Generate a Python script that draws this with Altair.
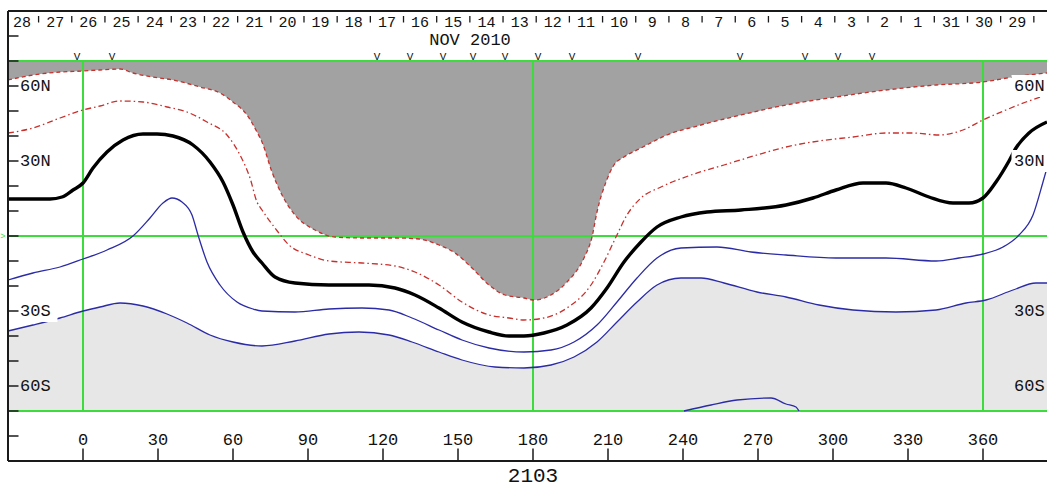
import altair as alt
import pandas as pd

# ---- curves: Carrington longitude (deg) and latitude (deg) ----
neutral_lon = [-30, -13.2, -8.4, -4, 0, 4, 9.6, 16, 24, 29.6, 36, 44, 50.8, 56, 60, 64, 68, 71.6,
               76.8, 84.8, 98.4, 114.4, 124.8, 132.8, 142.4, 151.6, 162.4, 170.4, 176.4, 184.4,
               193.6, 203.2, 209.6, 216.4, 223.2, 229.6, 239.2, 249.6, 263.2, 281.2, 292, 301.2,
               312, 321.2, 329.2, 338.4, 348, 354.4, 360, 365.2, 370.4, 373.2, 378.4, 385.6]
neutral_lat = [14.8, 14.8, 15.6, 18.4, 21.2, 27.2, 33.6, 38.4, 40.8, 40.8, 40, 36.4, 29.6, 21.6,
               12.4, 1.6, -6.4, -10.8, -16.4, -18.8, -19.6, -19.6, -20.8, -23.6, -28.8, -34.4,
               -38.4, -40, -40, -38.8, -35.6, -28.8, -20.8, -10.4, -2.4, 3.6, 7.6, 9.6, 10.4,
               12.4, 15.2, 18.4, 21.2, 21.2, 19.2, 15.6, 13.2, 13.2, 15.2, 21.6, 30, 35.2, 41.2,
               45.6]

red_outer_lon = [-30, -20, -9.2, 0, 6.8, 14.8, 20, 28, 36, 46.8, 54.8, 60, 65.6, 69.6, 71.6, 75.6,
                 79.6, 84.8, 92.8, 100.8, 111.6, 124.8, 134.4, 142.4, 148.8, 155.6, 162.4, 168.8,
                 176.4, 180.4, 187.2, 193.6, 200.4, 203.6, 205.6, 209.2, 212.4, 216.4, 223.2,
                 233.6, 247.2, 263.2, 281.2, 301.2, 321.2, 341.2, 360, 372, 385.6]
red_outer_lat = [62.4, 64.4, 65.6, 66, 66.4, 66.8, 65.2, 63.6, 62.4, 59.6, 57.2, 53.6, 48.4, 41.6,
                 37.6, 25.6, 16.4, 8.4, 2.4, -0.4, -0.8, -0.8, -1.2, -3.6, -6.8, -12.8, -19.6,
                 -23.6, -24.8, -25.6, -23.6, -18.4, -8.8, -0.4, 9.6, 21.6, 28.4, 31.6, 35.2, 40.4,
                 44.4, 48.4, 52.4, 55.6, 58.4, 60.4, 61.6, 63.6, 65.2]

red_inner_lon = [-30, -20, -9.2, 0, 6.8, 14.8, 24, 33.6, 41.6, 49.6, 57.6, 62.8, 66.8, 69.6, 71.6,
                 76.8, 82.4, 90.4, 98.4, 111.6, 124.8, 132.8, 142.4, 151.6, 162.4, 170.4, 176.4,
                 184.4, 193.6, 203.2, 208.4, 213.2, 217.6, 223.2, 231.2, 243.2, 256.4, 269.6,
                 281.2, 294.4, 308, 321.2, 332, 342.4, 352, 360, 369.2, 377.2, 385.6]
red_inner_lat = [41.2, 43.2, 47.2, 50.4, 52, 54, 53.6, 51.6, 49.6, 45.6, 40.4, 32.4, 23.2, 13.6,
                 10.4, 3.2, -3.6, -7.6, -10, -10.8, -12, -14.4, -19.6, -26.4, -31.6, -32.8, -33.6,
                 -32.8, -28.8, -19.6, -10.4, -0.4, 8.4, 15.2, 19.6, 24.4, 28.4, 32.4, 35.6, 38,
                 39.6, 41.2, 41.2, 40.4, 42.4, 46.4, 50.4, 53.6, 56.4]

blue_upper_lon = [-30, -20, -9.2, 0, 9.6, 20, 26.8, 32, 35.6, 39.6, 43.6, 46, 49.6, 54.8, 61.6, 68,
                  71.6, 84.8, 98.4, 111.6, 122.4, 131.6, 142.4, 151.6, 162.4, 176.4, 187.2, 196.4,
                  205.6, 213.6, 221.6, 229.6, 239.2, 253.6, 267.2, 281.2, 301.2, 321.2, 341.2,
                  350.4, 360, 368, 374.4, 380, 384, 385.6]
blue_upper_lat = [-17.6, -14.8, -12.4, -9.2, -5.6, 0, 7.2, 13.2, 15.2, 13.6, 8.4, 0.4, -10.4,
                  -19.6, -26.4, -29.2, -30, -30.4, -29.2, -28.8, -29.6, -32.8, -37.6, -41.6,
                  -44.8, -46.4, -45.6, -42.4, -35.6, -26.4, -16.8, -8.8, -4.8, -4.4, -6.4, -7.6,
                  -8.8, -8.8, -10, -8.8, -7.2, -4.4, 0.4, 8.4, 21.6, 27.2]

blue_lower_lon = [-30, -20, -9.2, 0, 6.8, 14.8, 24, 33.6, 41.6, 50.8, 60, 71.6, 84.8, 98.4, 110.4,
                  122.4, 131.6, 142.4, 151.6, 164.8, 176.4, 187.2, 196.4, 205.6, 213.6, 221.6,
                  229.6, 239.2, 247.2, 256.4, 269.6, 281.2, 294.4, 308, 325.2, 341.2, 353.2,
                  361.2, 372, 381.2, 385.6]
blue_lower_lat = [-38, -35.6, -32.8, -30, -28.4, -26.8, -28, -31.2, -34.8, -39.6, -42.4, -44, -42,
                  -39.2, -38.4, -39.6, -42.4, -46.4, -49.6, -52.4, -52.8, -51.6, -48.4, -42.4,
                  -34.4, -26.4, -19.6, -16.8, -16.8, -18.8, -22.4, -24.4, -27.6, -29.6, -30.4,
                  -29.6, -26.8, -25.6, -21.6, -18.8, -18.8]

blue_island_lon = [240.4, 251.2, 261.6, 275.2, 281.2, 285.2, 286.4]
blue_island_lat = [-70, -67.6, -65.6, -64.8, -67.2, -68.4, -70]

# ---- axis furniture ----
lat_ticks = [-80, -70, -60, -50, -40, -30, -20, -10, 0, 10, 20, 30, 40, 50, 60, 70, 80]
lon_ticks = [0, 30, 60, 90, 120, 150, 180, 210, 240, 270, 300, 330, 360]
day_labels = ["28", "27", "26", "25", "24", "23", "22", "21", "20", "19", "18", "17", "16", "15",
              "14", "13", "12", "11", "10", "9", "8", "7", "6", "5", "4", "3", "2", "1", "31",
              "30", "29"]
first_day_lon = -24.4
deg_per_day = 13.27
obs_marks_lon = [-2.4, 11.6, 117.6, 130.8, 144, 156, 168.8, 182, 195.6, 222, 262.8, 288.8, 302,
                 315.6]
lat_label_vals = [60, 30, -30, -60]
lat_label_text = ["60N", "30N", "30S", "60S"]
guide_lats = [70, 0, -70]
guide_lons = [0, 180, 360]

LON_MIN, LON_MAX = -30, 385.6
FONT = "Liberation Mono"
GREEN = "#3ddc3d"

xs = alt.Scale(domain=[LON_MIN, LON_MAX], nice=False, zero=False)
ys = alt.Scale(domain=[-90, 90], nice=False, zero=False)
X = alt.X("lon:Q", scale=xs, axis=None)
Y = alt.Y("lat:Q", scale=ys, axis=None)


def curve(lons, lats):
    return pd.DataFrame({"lon": lons, "lat": lats})


def rules(df, color, width):
    return alt.Chart(df).mark_rule(color=color, strokeWidth=width).encode(
        x=X, x2="lon2:Q", y=Y, y2="lat2:Q")


# shaded polarity regions
north_fill = alt.Chart(curve(red_outer_lon, red_outer_lat)).mark_area(
    color="#a2a2a2", interpolate="monotone").encode(x=X, y=Y, y2=alt.datum(70))
south_fill = alt.Chart(curve(blue_lower_lon, blue_lower_lat)).mark_area(
    color="#e7e7e7", interpolate="monotone").encode(x=X, y=Y, y2=alt.datum(-70))

# green reference grid
h_guides = pd.DataFrame({"lon": LON_MIN, "lon2": LON_MAX, "lat": guide_lats, "lat2": guide_lats})
v_guides = pd.DataFrame({"lon": guide_lons, "lon2": guide_lons, "lat": -70, "lat2": 70})
grid = rules(h_guides, GREEN, 2) + rules(v_guides, GREEN, 2)
eq_mark = alt.Chart(pd.DataFrame({"lon": [LON_MIN - 2], "lat": [0], "t": [">"]})).mark_text(
    color=GREEN, fontSize=9, font=FONT).encode(x=X, y=Y, text="t:N")

# contour lines
red_outer = alt.Chart(curve(red_outer_lon, red_outer_lat)).mark_line(
    color="#c8302c", strokeWidth=1.3, strokeDash=[4, 3], interpolate="monotone").encode(x=X, y=Y)
red_inner = alt.Chart(curve(red_inner_lon, red_inner_lat)).mark_line(
    color="#c8302c", strokeWidth=1.3, strokeDash=[6, 3, 1.5, 3], interpolate="monotone").encode(x=X, y=Y)
blue_upper = alt.Chart(curve(blue_upper_lon, blue_upper_lat)).mark_line(
    color="#2b2ba6", strokeWidth=1.3, interpolate="monotone").encode(x=X, y=Y)
blue_lower = alt.Chart(curve(blue_lower_lon, blue_lower_lat)).mark_line(
    color="#2b2ba6", strokeWidth=1.3, interpolate="monotone").encode(x=X, y=Y)
blue_island = alt.Chart(curve(blue_island_lon, blue_island_lat)).mark_line(
    color="#2b2ba6", strokeWidth=1.3, interpolate="monotone").encode(x=X, y=Y)
neutral = alt.Chart(curve(neutral_lon, neutral_lat)).mark_line(
    color="#000000", strokeWidth=3.4, interpolate="monotone").encode(x=X, y=Y)

# latitude labels on both edges, with background boxes where they sit over lines
lab_rows = []
for v, t in zip(lat_label_vals, lat_label_text):
    lab_rows.append({"lon": -25.2, "lat": v, "t": t, "side": "L"})
    lab_rows.append({"lon": 372.4, "lat": v, "t": t, "side": "R"})
labels = pd.DataFrame(lab_rows)
boxed = labels[((labels.side == "R") & (labels.lat > 0)) | ((labels.side == "L") & (labels.lat == -30))].copy()
boxed["lon"] = boxed["lon"] - 1.0
boxed["lon2"] = boxed["lon"] + 16.0
boxed["lat2"] = boxed["lat"] + 4.4
boxed["lat"] = boxed["lat"] - 4.4
label_boxes = alt.Chart(boxed).mark_rect(color="white").encode(x=X, x2="lon2:Q", y=Y, y2="lat2:Q")
label_text = alt.Chart(labels).mark_text(
    align="left", baseline="middle", fontSize=17, font=FONT, color="#111").encode(x=X, y=Y, text="t:N")

# frame
frame = pd.DataFrame({
    "lon": [LON_MIN, LON_MIN, LON_MIN],
    "lon2": [LON_MIN, LON_MAX, LON_MAX],
    "lat": [-90, 90, -90],
    "lat2": [90, 90, -90],
})
frame_lines = rules(frame, "#1a1a1a", 2)

left_ticks = pd.DataFrame({"lon": LON_MIN, "lon2": LON_MIN + 4.2, "lat": lat_ticks, "lat2": lat_ticks})
bottom_ticks = pd.DataFrame({"lon": lon_ticks, "lon2": lon_ticks, "lat": -90, "lat2": -85.0})
tick_lines = rules(left_ticks, "#1a1a1a", 1.5) + rules(bottom_ticks, "#1a1a1a", 1.5)

lon_labels = alt.Chart(pd.DataFrame({"lon": lon_ticks, "lat": -81.6, "t": [str(v) for v in lon_ticks]})).mark_text(
    baseline="middle", fontSize=17, font=FONT, color="#111").encode(x=X, y=Y, text="t:N")

# date scale along the top
day_df = pd.DataFrame({
    "lon": [first_day_lon + i * deg_per_day for i in range(len(day_labels))],
    "lat": 85.6,
    "t": day_labels,
})
day_text = alt.Chart(day_df).mark_text(
    baseline="middle", fontSize=15, font=FONT, color="#111").encode(x=X, y=Y, text="t:N")
day_tick_lon = [first_day_lon + (i + 0.5) * deg_per_day for i in range(len(day_labels))]
day_ticks = rules(pd.DataFrame({"lon": day_tick_lon, "lon2": day_tick_lon, "lat": 88.0, "lat2": 85.4}),
                  "#1a1a1a", 1.3)

obs_marks = alt.Chart(pd.DataFrame({"lon": obs_marks_lon, "lat": 70.3, "t": "V"})).mark_text(
    baseline="alphabetic", fontSize=11, font=FONT, color="#111").encode(x=X, y=Y, text="t:N")

titles = alt.Chart(pd.DataFrame({
    "lon": [154.8, 180], "lat": [76.6, -98.4], "t": ["NOV 2010", "2103"], "s": [17, 21]
})).mark_text(baseline="alphabetic", font=FONT, color="#111").encode(
    x=X, y=Y, text="t:N", size=alt.Size("s:Q", scale=None, legend=None))

chart = alt.layer(
    north_fill, south_fill, grid, eq_mark,
    red_outer, red_inner, blue_upper, blue_lower, blue_island, neutral,
    label_boxes, label_text,
    frame_lines, tick_lines, lon_labels, day_text, day_ticks, obs_marks, titles,
).properties(
    width=1039, height=450,
    padding={"left": 8, "top": 11, "right": 0, "bottom": 29},
    autosize=alt.AutoSizeParams(type="none"),
    background="white",
).configure_view(stroke=None)

chart.save("out.html", embed_options={"renderer": "svg", "actions": False})
